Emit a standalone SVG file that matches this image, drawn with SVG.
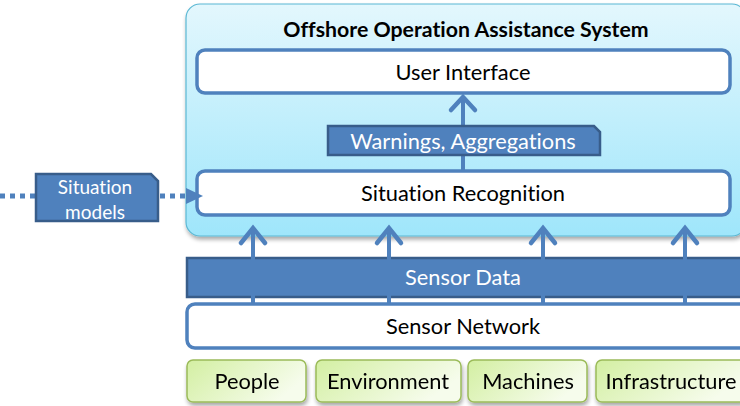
<svg xmlns="http://www.w3.org/2000/svg" width="740" height="406" viewBox="0 0 740 406">
  <style>
    text { font-family: Lato, "Open Sans", "Liberation Sans", sans-serif; text-anchor: middle; dominant-baseline: central; font-variant-ligatures: none; }
    .dark { fill: #000; font-size: 21.8px; }
    .light { fill: #fff; font-size: 21.8px; }
    .small { fill: #fff; font-size: 19px; }
    .title { fill: #000; font-size: 21.3px; font-weight: bold; }
    .layer { fill: #fff; stroke: #4f81bd; stroke-width: 3.5; }
    .band { fill: #4f81bd; stroke: #385d8a; stroke-width: 2.5; }
    .source { fill: url(#green); stroke: #9bbb59; stroke-width: 1.5; }
    .flow { stroke: #4f81bd; stroke-width: 4; fill: none; }
    .head { stroke: #4f81bd; stroke-width: 4.5; fill: none; stroke-linecap: round; stroke-linejoin: miter; }
    .dots { stroke: #4f81bd; stroke-width: 5; stroke-dasharray: 5 5; fill: none; }
  </style>
  <defs>
    <linearGradient id="cyan" x1="0" y1="0" x2="0" y2="1">
      <stop offset="0" stop-color="#e3f7fd"/>
      <stop offset="1" stop-color="#9fe6fb"/>
    </linearGradient>
    <linearGradient id="green" x1="0" y1="0" x2="1" y2="0.4">
      <stop offset="0" stop-color="#d3efa2"/>
      <stop offset="1" stop-color="#f6fcec"/>
    </linearGradient>
    <filter id="shadow" x="-5%" y="-5%" width="110%" height="120%">
      <feGaussianBlur in="SourceAlpha" stdDeviation="2"/>
      <feOffset dx="1" dy="3" result="b"/>
      <feComponentTransfer><feFuncA type="linear" slope="0.35"/></feComponentTransfer>
      <feMerge><feMergeNode/><feMergeNode in="SourceGraphic"/></feMerge>
    </filter>
  </defs>

  <!-- system container -->
  <g id="system">
    <rect x="186" y="4" width="560" height="232" rx="14" fill="url(#cyan)" stroke="#5bb8d4" stroke-width="1.2" filter="url(#shadow)"/>
    <text class="title" x="466" y="29">Offshore Operation Assistance System</text>
  </g>

  <g id="user-interface">
    <rect class="layer" x="197" y="50" width="533" height="43" rx="8"/>
    <text class="dark" x="463" y="71">User Interface</text>
  </g>

  <g id="situation-recognition">
    <rect class="layer" x="197" y="171" width="533" height="44" rx="8"/>
    <text class="dark" x="463" y="192">Situation Recognition</text>
  </g>

  <g id="sensor-data">
    <rect class="band" x="187" y="258" width="560" height="39"/>
    <text class="light" x="463" y="276">Sensor Data</text>
  </g>

  <g id="sensor-network">
    <rect class="layer" x="187" y="304" width="570" height="44" rx="8"/>
    <text class="dark" x="463" y="325">Sensor Network</text>
  </g>

  <!-- connectors -->
  <g id="connectors">
    <!-- recognition to user interface -->
    <line class="flow" x1="463" y1="170" x2="463" y2="97"/>
    <polyline class="head" points="451,110 463,97 475,110"/>
    <!-- sensor network to recognition -->
    <line class="flow" x1="253" y1="303" x2="253" y2="228"/>
    <polyline class="head" points="241,243 253,228 265,243"/>
    <line class="flow" x1="389" y1="303" x2="389" y2="228"/>
    <polyline class="head" points="377,243 389,228 401,243"/>
    <line class="flow" x1="543" y1="303" x2="543" y2="228"/>
    <polyline class="head" points="531,243 543,228 555,243"/>
    <line class="flow" x1="685" y1="303" x2="685" y2="228"/>
    <polyline class="head" points="673,243 685,228 697,243"/>
    <!-- situation models feed -->
    <line class="dots" x1="0" y1="196" x2="35" y2="196"/>
    <line class="dots" x1="160" y1="196" x2="186" y2="196"/>
    <path d="M186,188 L203,196 L186,204 Z" fill="#4f81bd"/>
  </g>

  <g id="warnings">
    <path class="band" d="M328,126 H594 L600,132 V155 H328 Z"/>
    <text class="light" x="463" y="140">Warnings, Aggregations</text>
  </g>

  <g id="situation-models">
    <path class="band" d="M36,174 H151 L158,181 V221 H36 Z"/>
    <text class="small" x="95" y="186">Situation</text>
    <text class="small" x="95" y="211">models</text>
  </g>

  <!-- sources -->
  <g id="people" filter="url(#shadow)">
    <rect class="source" x="187" y="360" width="119" height="42" rx="6"/>
    <text class="dark" x="247" y="380">People</text>
  </g>
  <g id="environment" filter="url(#shadow)">
    <rect class="source" x="316" y="360" width="145" height="42" rx="6"/>
    <text class="dark" x="388" y="380">Environment</text>
  </g>
  <g id="machines" filter="url(#shadow)">
    <rect class="source" x="468" y="360" width="119" height="42" rx="6"/>
    <text class="dark" x="528" y="380">Machines</text>
  </g>
  <g id="infrastructure" filter="url(#shadow)">
    <rect class="source" x="596" y="360" width="150" height="42" rx="6"/>
    <text class="dark" x="671" y="380">Infrastructure</text>
  </g>
</svg>
